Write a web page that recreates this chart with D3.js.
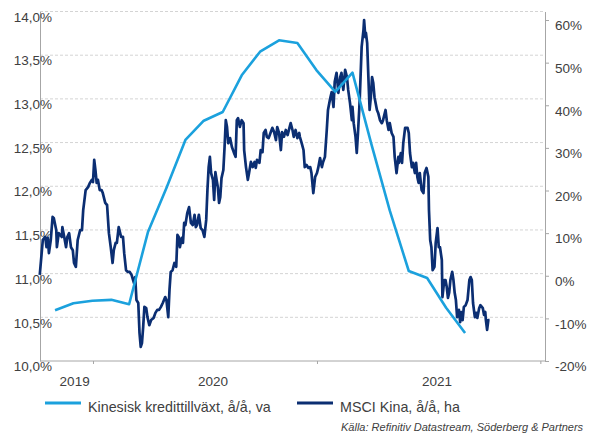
<!DOCTYPE html>
<html><head><meta charset="utf-8">
<script src="https://cdn.jsdelivr.net/npm/d3@7"></script>
<style>
html,body{margin:0;padding:0;background:#fff;}
svg{display:block;font-family:"Liberation Sans",Arial,sans-serif;}
</style></head>
<body>
<svg id="chart" width="589" height="433"></svg>
<script>
// ---------- DATA ----------
// Chinese credit growth (left axis, %), monthly month-end
const creditMonths = ["2019-10","2019-11","2019-12","2020-01","2020-02","2020-03","2020-04","2020-05","2020-06","2020-07","2020-08","2020-09","2020-10","2020-11","2020-12","2021-01","2021-02","2021-03","2021-04","2021-05","2021-06","2021-07","2021-08"];
const creditValues = [10.58,10.66,10.69,10.70,10.65,11.48,11.98,12.53,12.75,12.85,13.27,13.54,13.67,13.64,13.33,13.08,13.30,12.48,11.72,11.03,10.95,10.61,10.32];
// MSCI China y/y (right axis, %): [days since 2020-01-01, value]
const msciData = [[-87,0.2],[-82,8.4],[-78,9.1],[-76,6.7],[-74,8.9],[-72,5.3],[-69,8.4],[-66,13.8],[-64,13.5],[-60,10.7],[-59,6.7],[-56,10.0],[-51,9.1],[-50,11.4],[-47,9.1],[-44,6.7],[-42,9.1],[-39,10.0],[-36,6.7],[-33,6.0],[-31,3.0],[-28,2.1],[-25,8.4],[-21,10.7],[-18,10.7],[-16,15.4],[-12,20.1],[-8,20.8],[-5,21.8],[-2,22.5],[0,22.0],[2,27.2],[4,24.8],[6,21.8],[8,22.5],[11,20.1],[14,20.1],[16,19.4],[20,17.1],[23,16.6],[26,10.0],[29,6.7],[32,3.0],[34,6.0],[37,7.7],[39,7.7],[42,11.4],[46,9.1],[49,9.1],[51,5.3],[54,1.3],[57,0.9],[60,0.9],[63,0.2],[67,-1.7],[69,-0.3],[71,-5.7],[74,-6.4],[76,-13.4],[78,-16.7],[80,-15.8],[82,-12.0],[84,-7.3],[87,-7.6],[89,-9.7],[92,-11.6],[95,-10.4],[99,-9.9],[102,-8.7],[105,-8.0],[108,-8.0],[111,-7.3],[114,-6.4],[118,-5.0],[120,-5.7],[123,-9.7],[125,-3.3],[127,0.9],[130,1.3],[133,3.0],[136,2.1],[138,9.6],[140,9.1],[142,6.7],[145,8.9],[147,7.7],[149,12.4],[151,11.9],[154,14.7],[157,16.1],[160,12.4],[163,11.9],[166,14.3],[168,11.4],[170,11.9],[173,14.3],[176,11.2],[179,10.7],[182,9.1],[185,13.1],[187,20.1],[189,25.5],[191,27.9],[193,24.1],[196,22.5],[198,17.8],[200,24.3],[202,22.5],[204,20.8],[206,17.1],[208,18.5],[210,22.9],[213,24.8],[215,30.2],[217,36.5],[219,34.9],[221,31.1],[224,32.3],[227,30.2],[230,29.0],[233,27.9],[235,36.5],[237,37.0],[240,34.9],[243,36.5],[246,35.8],[247,29.5],[250,25.5],[253,22.5],[255,24.1],[258,26.7],[261,25.5],[264,26.7],[266,25.3],[268,27.2],[272,26.5],[274,29.5],[277,29.0],[279,33.5],[282,34.2],[284,32.6],[287,32.3],[290,33.5],[293,34.7],[296,33.7],[299,31.8],[301,34.9],[304,33.5],[307,29.5],[309,33.7],[312,32.6],[315,34.2],[318,33.0],[321,34.7],[323,35.8],[326,34.2],[328,32.6],[331,34.2],[334,32.3],[337,33.5],[338,32.6],[341,31.1],[344,29.5],[346,25.5],[349,26.0],[352,25.3],[355,25.5],[357,24.1],[360,19.4],[363,23.2],[366,24.1],[368,25.3],[371,27.6],[374,25.5],[376,26.7],[379,27.9],[382,34.2],[384,38.9],[387,41.2],[390,43.1],[393,39.6],[395,45.5],[398,47.6],[401,42.9],[404,46.6],[406,47.6],[409,43.6],[412,48.3],[415,46.6],[417,43.6],[420,40.5],[423,36.5],[424,39.6],[426,35.8],[429,32.6],[431,28.8],[433,33.5],[435,38.9],[436,41.9],[439,53.7],[442,57.7],[443,60.0],[445,56.0],[446,57.0],[448,54.6],[450,46.6],[452,38.9],[454,41.9],[456,46.6],[458,45.2],[460,41.9],[464,38.9],[466,38.2],[469,36.5],[472,35.8],[474,36.5],[478,38.9],[480,36.5],[483,34.2],[485,35.8],[488,33.5],[491,32.6],[493,27.9],[496,24.1],[499,27.9],[500,26.5],[503,28.8],[505,26.5],[507,31.1],[510,34.7],[514,34.7],[516,33.5],[518,28.8],[521,25.5],[523,26.5],[526,24.1],[528,26.5],[530,23.2],[532,21.8],[534,24.1],[537,20.1],[540,19.4],[542,24.1],[545,25.3],[548,23.2],[549,15.4],[551,8.4],[553,6.7],[555,1.3],[558,2.1],[560,7.7],[563,11.2],[565,6.7],[567,6.7],[570,3.7],[571,-5.0],[574,-1.0],[576,-1.0],[578,-2.6],[580,-5.2],[582,-4.0],[584,-1.0],[587,0.9],[589,-1.0],[591,-4.0],[593,-5.7],[595,-9.7],[598,-8.0],[600,-10.9],[602,-8.5],[604,-10.4],[606,-7.3],[609,-6.9],[612,-5.7],[615,-1.0],[617,-0.3],[619,-1.0],[621,-6.4],[624,-9.7],[626,-8.7],[628,-9.9],[631,-7.6],[633,-6.9],[637,-7.6],[639,-9.2],[641,-8.5],[642,-10.4],[644,-12.7],[646,-10.4],[648,-10.4]];
const leftTicks = [10.0,10.5,11.0,11.5,12.0,12.5,13.0,13.5,14.0];
const rightTicks = [-20,-10,0,10,20,30,40,50,60];
const yearTickDates = ["2020-01-01","2021-01-01","2022-01-01"];
const yearLabels = ["2019","2020","2021"];
const yearLabelDates = ["2019-12-02","2020-07-15","2021-07-16"];
const legendLabels = ["Kinesisk kredittillväxt, å/å, va","MSCI Kina, å/å, ha"];
const sourceText = "Källa: Refinitiv Datastream, Söderberg & Partners";

// ---------- SETUP ----------
const base = Date.UTC(2020,0,1);
const dayToDate = d => new Date(base + d*864e5);
const parseISO = s => new Date(s + "T00:00:00Z");
const monthEnd = m => { const [y,mo] = m.split("-").map(Number); return new Date(Date.UTC(y, mo, 0)); };

const L = 40, R = 545, T = 11.5, B = 361;
const x = d3.scaleUtc().domain([dayToDate(-86.6), dayToDate(738.6)]).range([L, R]);
const yL = d3.scaleLinear().domain([10, 14]).range([B, T]);
const yR = d3.scaleLinear().domain([-20, 62]).range([B, T]);

const lightBlue = "#1ba1dd", darkBlue = "#0b2e72", axisCol = "#a6a6a6", textCol = "#404040";

const svg = d3.select("#chart");

// gridlines
svg.append("g").selectAll("line").data(leftTicks.filter(t => t > 10)).join("line")
  .attr("x1", L).attr("x2", R).attr("y1", d => yL(d)).attr("y2", d => yL(d))
  .attr("stroke", "#d4d4d4").attr("stroke-width", 1).attr("stroke-dasharray", "3,2");

// left axis
const fmtL = d => d3.format(".1f")(d).replace(".", ",") + "%";
const gL = svg.append("g").attr("transform", `translate(${L},0)`)
  .call(d3.axisLeft(yL).tickValues(leftTicks).tickSize(0).tickFormat(fmtL));
gL.select(".domain").attr("stroke", axisCol);
gL.selectAll("text").attr("x", 12).attr("dy", "0.72em").attr("font-size", 13.5).attr("fill", textCol)
  .attr("font-family", "Liberation Sans, Arial, sans-serif");

// right axis
const gR = svg.append("g").attr("transform", `translate(${R},0)`)
  .call(d3.axisRight(yR).tickValues(rightTicks).tickSizeInner(4).tickSizeOuter(0).tickPadding(6).tickFormat(d => d + "%"));
gR.select(".domain").attr("stroke", axisCol);
gR.selectAll(".tick line").attr("stroke", axisCol);
gR.selectAll("text").attr("dy", "0.72em").attr("font-size", 13.5).attr("fill", textCol)
  .attr("font-family", "Liberation Sans, Arial, sans-serif");

// bottom axis
const gB = svg.append("g").attr("transform", `translate(0,${B})`)
  .call(d3.axisBottom(x).tickValues(yearTickDates.map(parseISO)).tickSizeInner(3).tickSizeOuter(0).tickFormat(""));
gB.select(".domain").attr("stroke", axisCol).attr("d", `M${L},0H${R}`);
gB.selectAll(".tick line").attr("stroke", axisCol);
svg.append("g").selectAll("text").data(yearLabels).join("text")
  .attr("x", (d,i) => x(parseISO(yearLabelDates[i]))).attr("y", 386)
  .attr("text-anchor", "middle").attr("font-size", 13.5).attr("fill", textCol).text(d => d);

// lines
const msciLine = d3.line().x(d => x(dayToDate(d[0]))).y(d => yR(d[1]));
svg.append("path").datum(msciData).attr("d", msciLine)
  .attr("fill", "none").attr("stroke", darkBlue).attr("stroke-width", 2.7).attr("stroke-linejoin", "round");

const creditLine = d3.line().x((d,i) => x(monthEnd(creditMonths[i]))).y(d => yL(d));
svg.append("path").datum(creditValues).attr("d", creditLine)
  .attr("fill", "none").attr("stroke", lightBlue).attr("stroke-width", 2.6).attr("stroke-linejoin", "round");

// legend
const legend = [
  {label: legendLabels[0], color: lightBlue, x0: 45},
  {label: legendLabels[1], color: darkBlue, x0: 297}
];
const lg = svg.append("g");
legend.forEach(l => {
  lg.append("line").attr("x1", l.x0).attr("x2", l.x0 + 36).attr("y1", 403).attr("y2", 403)
    .attr("stroke", l.color).attr("stroke-width", 3);
  lg.append("text").attr("x", l.x0 + 43).attr("y", 411.5).attr("font-size", 14.3).attr("fill", textCol).text(l.label);
});

// source
svg.append("text").attr("x", 341).attr("y", 431).attr("font-size", 11).attr("font-style", "italic")
  .attr("fill", textCol).text(sourceText);
</script>
</body></html>
